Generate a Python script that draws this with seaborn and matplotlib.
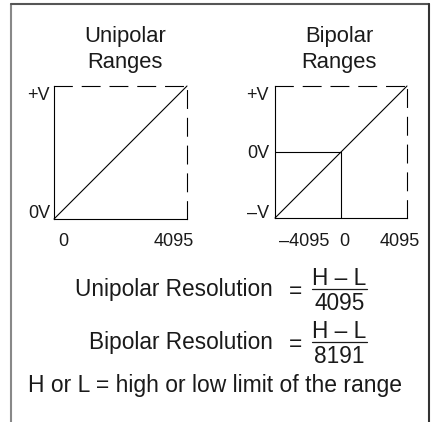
import matplotlib
matplotlib.use("Agg")
import matplotlib.pyplot as plt
from matplotlib.lines import Line2D
import seaborn as sns

# ---- data ----
uni_codes = [0, 4095]
uni_volts = [0, 1]
bi_codes = [-4095, 4095]
bi_volts = [-1, 1]
bi_zero_h_codes = [-4095, 0]
bi_zero_h_volts = [0, 0]
bi_zero_v_codes = [0, 0]
bi_zero_v_volts = [-1, 0]

uni_xticklabels = ["0", "4095"]
uni_yticklabels = ["+V", "0V"]
bi_xticklabels = ["\u20134095", "0", "4095"]
bi_yticklabels = ["+V", "0V", "\u2013V"]
titles = ["Unipolar\nRanges", "Bipolar\nRanges"]

sns.set_theme(style="white")
plt.rcParams["font.family"] = ["Liberation Sans", "DejaVu Sans"]

W, H = 432, 422
fig = plt.figure(figsize=(W / 100, H / 100), dpi=100)


def fx(x):
    return x / W


def fy(y):
    return 1 - y / H


def add_axes_px(L, T, R, B):
    return fig.add_axes([fx(L), fy(B), (R - L) / W, (B - T) / H])


def style_box(ax):
    for s in ax.spines.values():
        s.set_color("black")
        s.set_linewidth(0.8)
        s.set_visible(True)
    for s in ("top", "right"):
        ax.spines[s].set_linestyle((0, (16, 9)))
    ax.set_xticks([])
    ax.set_yticks([])
    ax.set_xlabel("")
    ax.set_ylabel("")
    ax.set_facecolor("none")


# Unipolar
ax1 = add_axes_px(54, 86, 187, 219)
sns.lineplot(x=uni_codes, y=uni_volts, ax=ax1, color="black", lw=0.8,
             estimator=None, sort=False)
ax1.set_xlim(uni_codes[0], uni_codes[-1])
ax1.set_ylim(uni_volts[0], uni_volts[-1])
style_box(ax1)

# Bipolar
ax2 = add_axes_px(275, 86, 407, 218)
sns.lineplot(x=bi_codes, y=bi_volts, ax=ax2, color="black", lw=0.8,
             estimator=None, sort=False)
sns.lineplot(x=bi_zero_h_codes, y=bi_zero_h_volts, ax=ax2, color="black",
             lw=0.8, estimator=None, sort=False)
sns.lineplot(x=bi_zero_v_codes, y=bi_zero_v_volts, ax=ax2, color="black",
             lw=0.8, estimator=None, sort=False)
ax2.set_xlim(bi_codes[0], bi_codes[-1])
ax2.set_ylim(bi_volts[0], bi_volts[-1])
style_box(ax2)

for ax in (ax1, ax2):
    for ln in ax.lines:
        ln.set_clip_on(False)

txt = "#1a1a1a"
big = 15.8
form = 16.3
small = 13

# titles
for (cx, t) in zip([125, 339], titles):
    l1, l2 = t.split("\n")
    fig.text(fx(cx), fy(42), l1, ha="center", va="baseline", fontsize=big, color=txt)
    fig.text(fx(cx), fy(68), l2, ha="center", va="baseline", fontsize=big, color=txt)

# axis labels (unipolar)
for lab, cx in zip(uni_xticklabels, [63, 173.5]):
    fig.text(fx(cx), fy(246), lab, ha="center", va="baseline", fontsize=small, color=txt)
for lab, by in zip(uni_yticklabels, [100, 218]):
    fig.text(fx(50), fy(by), lab, ha="right", va="baseline", fontsize=small, color=txt)

# axis labels (bipolar)
for lab, cx in zip(bi_xticklabels, [304.5, 344, 399.5]):
    fig.text(fx(cx), fy(246), lab, ha="center", va="baseline", fontsize=small, color=txt)
for lab, by in zip(bi_yticklabels, [100, 158, 218]):
    fig.text(fx(269), fy(by), lab, ha="right", va="baseline", fontsize=small, color=txt)

# formulas
formulas = [("Unipolar Resolution", "H \u2013 L", "4095", 0),
            ("Bipolar Resolution", "H \u2013 L", "8191", 53)]
for name, num, den, dy in formulas:
    fig.text(fx(273), fy(296 + dy), name, ha="right", va="baseline", fontsize=form, color=txt)
    fig.text(fx(295), fy(289 + dy), "=", ha="center", va="center_baseline", fontsize=form, color=txt)
    fig.text(fx(339.5), fy(285 + dy), num, ha="center", va="baseline", fontsize=form, color=txt)
    fig.text(fx(339.5), fy(310 + dy), den, ha="center", va="baseline", fontsize=form, color=txt)
    fig.add_artist(Line2D([fx(312), fx(367)], [fy(289 + dy), fy(289 + dy)],
                          transform=fig.transFigure, color=txt, lw=0.9))

fig.text(fx(215), fy(392), "H or L = high or low limit of the range",
         ha="center", va="baseline", fontsize=16.5, color=txt)

# outer frame (open at bottom)
fig.add_artist(Line2D([fx(11), fx(11)], [fy(4), 0], transform=fig.transFigure,
                      color="#888888", lw=1.5))
fig.add_artist(Line2D([fx(11), fx(429)], [fy(4), fy(4)], transform=fig.transFigure,
                      color="#555555", lw=1.5))
fig.add_artist(Line2D([fx(429), fx(429)], [fy(4), 0], transform=fig.transFigure,
                      color="#333333", lw=1.5))

fig.savefig("out.png", dpi=100)
